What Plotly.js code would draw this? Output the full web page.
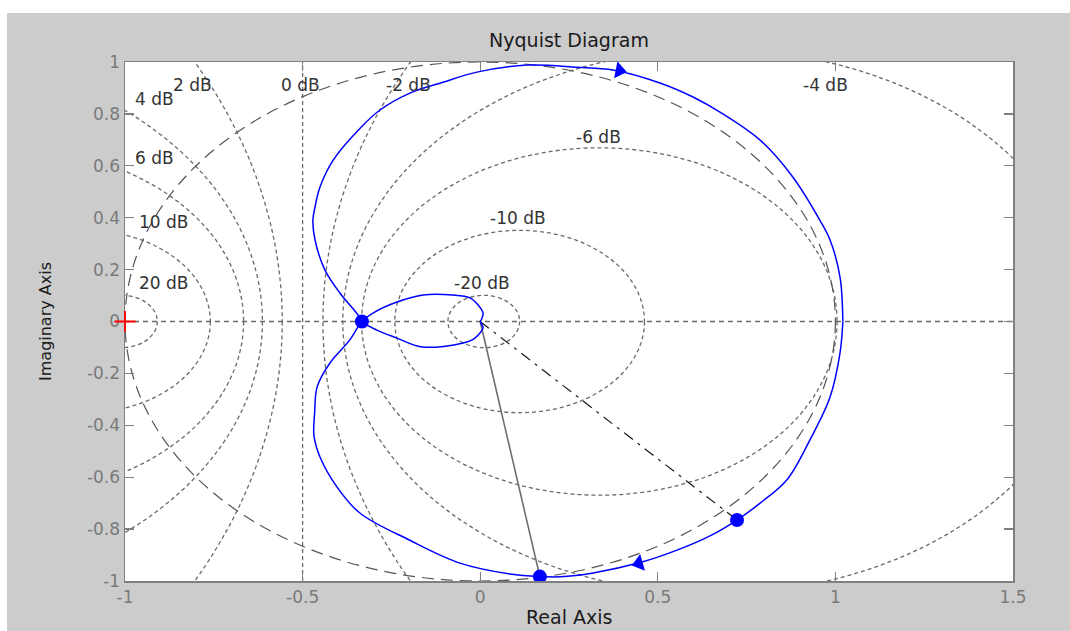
<!DOCTYPE html>
<html>
<head>
<meta charset="utf-8">
<script src="https://cdn.plot.ly/plotly-3.0.1.min.js"></script>
<style>html,body{margin:0;padding:0;background:#fff;}#chart{width:1070px;height:631px;}</style>
</head>
<body>
<div id="chart"></div>
<script>
// ---- Data ----
// Positive-frequency branch (from w=0 on the right, lower big lobe, then upper small loop into the origin)
const posRe = [1.021, 1.013, 0.985, 0.928, 0.863, 0.788, 0.723, 0.647, 0.554, 0.450, 0.318, 0.225, 0.168, 0.084, -0.057, -0.198, -0.338, -0.403, -0.451, -0.468, -0.466, -0.459, -0.423, -0.367, -0.344, -0.333, -0.296, -0.234, -0.161, -0.077, -0.029, -0.006, 0.008, 0.005, 0.0];
const posIm = [0.0, -0.121, -0.291, -0.457, -0.611, -0.700, -0.765, -0.826, -0.881, -0.929, -0.969, -0.984, -0.983, -0.973, -0.931, -0.843, -0.739, -0.638, -0.522, -0.440, -0.350, -0.252, -0.160, -0.071, -0.021, 0.0, 0.037, 0.075, 0.102, 0.102, 0.091, 0.064, 0.033, 0.013, 0.0];
// Negative-frequency branch (from the origin, lower small loop, then upper big lobe)
const negRe = [0.0, 0.005, 0.008, -0.015, -0.048, -0.164, -0.234, -0.291, -0.333, -0.344, -0.395, -0.437, -0.465, -0.471, -0.465, -0.451, -0.414, -0.338, -0.282, -0.198, -0.105, -0.009, 0.132, 0.273, 0.374, 0.506, 0.599, 0.675, 0.788, 0.880, 0.956, 0.985, 1.013, 1.021];
const negIm = [0.0, -0.013, -0.025, -0.064, -0.083, -0.098, -0.064, -0.033, 0.0, 0.025, 0.110, 0.198, 0.314, 0.391, 0.441, 0.518, 0.622, 0.745, 0.815, 0.880, 0.922, 0.961, 0.988, 0.980, 0.969, 0.919, 0.865, 0.807, 0.699, 0.557, 0.391, 0.314, 0.171, 0.0];
// Marked points
const markRe = [-0.333, 0.723, 0.168];
const markIm = [0.0, -0.765, -0.983];
// Direction arrows
const arrowRe = [0.392, 0.447];
const arrowIm = [0.967, -0.932];
const arrowAngle = [11, -16];
// Critical point
const critRe = [-1];
const critIm = [0];
// Vectors from origin
const vecSolidRe = [0, 0.168], vecSolidIm = [0, -0.983];
const vecDashRe = [0, 0.723], vecDashIm = [0, -0.765];
// M-circle levels (dB) and label text
const dbLevels = [20, 10, 6, 4, 2, 0, -2, -4, -6, -10, -20];
const dbLabels = ['20 dB', '10 dB', '6 dB', '4 dB', '2 dB', '0 dB', '-2 dB', '-4 dB', '-6 dB', '-10 dB', '-20 dB'];
// Tick labels
const xTicks = [-1, -0.5, 0, 0.5, 1, 1.5];
const xTickText = ['-1', '-0.5', '0', '0.5', '1', '1.5'];
const yTicks = [-1, -0.8, -0.6, -0.4, -0.2, 0, 0.2, 0.4, 0.6, 0.8, 1];
const yTickText = ['-1', '-0.8', '-0.6', '-0.4', '-0.2', '0', '0.2', '0.4', '0.6', '0.8', '1'];
const xTitle = 'Real Axis';
const yTitle = 'Imaginary Axis';
const chartTitle = 'Nyquist Diagram';

// ---- Label placement (layout) ----
const labelPos = {
  '20 dB': [-0.890, 0.148], '10 dB': [-0.890, 0.383], '6 dB': [-0.916, 0.630],
  '4 dB': [-0.916, 0.857], '2 dB': [-0.809, 0.911], '0 dB': [-0.507, 0.911],
  '-2 dB': [-0.203, 0.911], '-4 dB': [0.971, 0.911], '-6 dB': [0.332, 0.711],
  '-10 dB': [0.106, 0.399], '-20 dB': [0.005, 0.148]
};

const FONT = 'DejaVu Sans, Verdana, sans-serif';
const gridColor = '#6a6a6a';
const blue = '#0000ff';

// ---- Grid shapes (M-circles) ----
const shapes = [];
dbLevels.forEach(db => {
  if (db === 0) {
    shapes.push({type: 'line', xref: 'x', yref: 'y', x0: -0.5, x1: -0.5, y0: -1, y1: 1,
      line: {color: gridColor, width: 1.3, dash: '4px,3px'}, layer: 'below'});
  } else {
    const M2 = Math.pow(10, db / 10);
    const M = Math.sqrt(M2);
    const c = -M2 / (M2 - 1);
    const r = Math.abs(M / (M2 - 1));
    shapes.push({type: 'circle', xref: 'x', yref: 'y', x0: c - r, x1: c + r, y0: -r, y1: r,
      line: {color: gridColor, width: 1.3, dash: '4px,3px'}, layer: 'below'});
  }
});
// real axis line
shapes.push({type: 'line', xref: 'x', yref: 'y', x0: -1, x1: 1.5, y0: 0, y1: 0,
  line: {color: gridColor, width: 1.3, dash: '5px,4px'}, layer: 'below'});
// unit circle
shapes.push({type: 'circle', xref: 'x', yref: 'y', x0: -1, x1: 1, y0: -1, y1: 1,
  line: {color: '#555555', width: 1.2, dash: '12px,7px'}, layer: 'below'});
// white margins of the figure (top and left strips)
shapes.push({type: 'rect', xref: 'paper', yref: 'paper', x0: -0.2, x1: 1.2, y0: 1.0944, y1: 1.3,
  fillcolor: '#ffffff', line: {width: 0}});
shapes.push({type: 'rect', xref: 'paper', yref: 'paper', x0: -0.2, x1: -0.1329, y0: -0.2, y1: 1.3,
  fillcolor: '#ffffff', line: {width: 0}});

const annotations = dbLabels.map(t => ({
  x: labelPos[t][0], y: labelPos[t][1], xref: 'x', yref: 'y', text: t, showarrow: false,
  font: {family: FONT, size: 17, color: '#333333'}, xanchor: 'center', yanchor: 'middle'
}));
// x-axis title, placed as low as possible while staying fully visible
annotations.push({x: 0.5, y: -0.0944, xref: 'paper', yref: 'paper', text: xTitle, showarrow: false,
  font: {family: FONT, size: 19, color: '#1a1a1a'}, xanchor: 'center', yanchor: 'bottom'});

const traces = [
  {x: vecSolidRe, y: vecSolidIm, mode: 'lines', line: {color: '#6e6e6e', width: 1.6}, hoverinfo: 'skip'},
  {x: vecDashRe, y: vecDashIm, mode: 'lines', line: {color: '#1a1a1a', width: 1.2, dash: '11px,6px,3px,6px'}, hoverinfo: 'skip'},
  {x: posRe, y: posIm, mode: 'lines', line: {color: blue, width: 1.5, shape: 'spline', smoothing: 1}},
  {x: negRe, y: negIm, mode: 'lines', line: {color: blue, width: 1.5, shape: 'spline', smoothing: 1}},
  {x: markRe, y: markIm, mode: 'markers', marker: {color: blue, size: 14, symbol: 'circle'}},
  {x: arrowRe, y: arrowIm, mode: 'markers', marker: {color: blue, size: 15, symbol: ['triangle-right', 'triangle-left'], angle: arrowAngle}},
  {x: critRe, y: critIm, mode: 'markers', cliponaxis: false, marker: {symbol: 'cross-thin', size: 15, line: {color: '#ff0000', width: 1.8}, color: '#ff0000'}}
];

const axisCommon = {
  showgrid: false, zeroline: false, showline: true, mirror: 'ticks', linecolor: '#808080', linewidth: 1.5,
  ticks: 'inside', ticklen: 9, tickwidth: 1.2, tickcolor: '#808080', layer: 'below traces',
  tickfont: {family: FONT, size: 17, color: '#7a7a7a'}, fixedrange: true
};

const layout = {
  width: 1070, height: 631,
  margin: {l: 125, r: 57, t: 62, b: 50},
  paper_bgcolor: '#cccccc', plot_bgcolor: '#ffffff',
  showlegend: false,
  title: {text: chartTitle, x: 0.5, xref: 'paper', y: 1 - 40 / 631, yref: 'container', yanchor: 'middle',
    font: {family: FONT, size: 19, color: '#1a1a1a'}},
  xaxis: Object.assign({}, axisCommon, {range: [-1, 1.5], tickvals: xTicks, ticktext: xTickText}),
  yaxis: Object.assign({}, axisCommon, {range: [-1, 1], tickvals: yTicks, ticktext: yTickText,
    title: {text: yTitle, font: {family: FONT, size: 16, color: '#1a1a1a'}, standoff: 31}}),
  shapes: shapes,
  annotations: annotations
};

Plotly.newPlot('chart', traces, layout, {displayModeBar: false, staticPlot: true});
</script>
</body>
</html>
